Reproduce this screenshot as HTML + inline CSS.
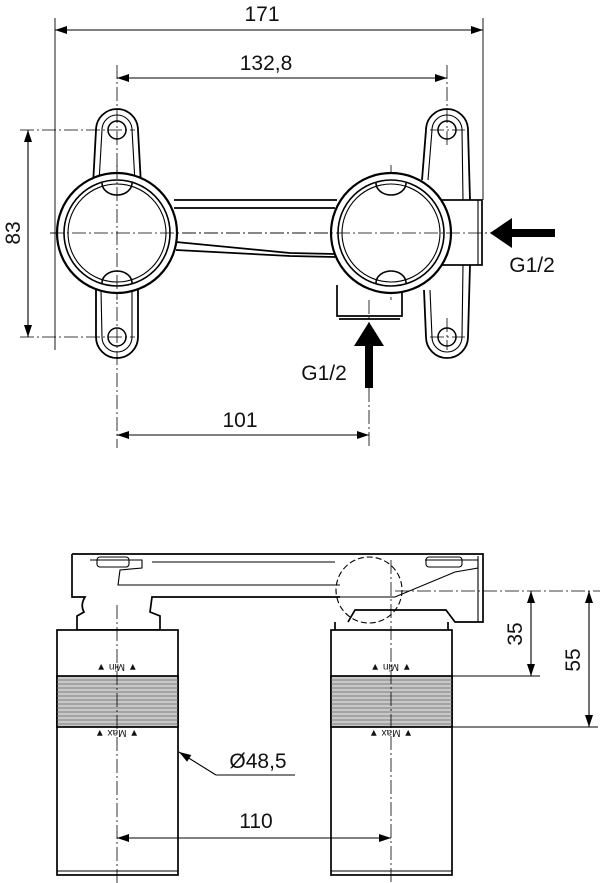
<!DOCTYPE html>
<html><head><meta charset="utf-8"><style>
html,body{margin:0;padding:0;background:#fff}
svg{display:block}
text{font-family:"Liberation Sans",sans-serif;fill:#111}
</style></head><body>
<svg width="600" height="883" viewBox="0 0 600 883" xmlns="http://www.w3.org/2000/svg">
<defs>
<marker id="a" viewBox="0 0 12 8" refX="12" refY="4" markerWidth="13" markerHeight="8" orient="auto-start-reverse" markerUnits="userSpaceOnUse"><path d="M0,0L12,4L0,8z" fill="#000"/></marker>
</defs>
<g stroke="#000" fill="none" stroke-width="1.1">
<line x1="55" y1="18" x2="55" y2="350" stroke-width="0.9"/>
<line x1="483" y1="18" x2="483" y2="200" stroke-width="0.9"/>
<line x1="55" y1="30" x2="483" y2="30" marker-start="url(#a)" marker-end="url(#a)"/>
<line x1="117" y1="78" x2="447" y2="78" marker-start="url(#a)" marker-end="url(#a)"/>
<line x1="28" y1="130" x2="28" y2="337" marker-start="url(#a)" marker-end="url(#a)"/>
<line x1="117" y1="435" x2="369" y2="435" marker-start="url(#a)" marker-end="url(#a)"/>
<g stroke-dasharray="14,3,2,3" stroke-width="0.8">
<line x1="117" y1="65" x2="117" y2="448"/>
<line x1="447" y1="65" x2="447" y2="148"/>
<line x1="447" y1="318" x2="447" y2="350"/>
<line x1="369" y1="300" x2="369" y2="448"/>
<line x1="391" y1="165" x2="391" y2="300"/>
<line x1="20" y1="130" x2="135" y2="130"/>
<line x1="20" y1="337" x2="135" y2="337"/>
<line x1="50" y1="233" x2="500" y2="233"/>
<line x1="430" y1="130" x2="465" y2="130"/>
<line x1="430" y1="337" x2="465" y2="337"/>
</g>
<g stroke-width="1.8">
<path d="M96,130 A21,21 0 0 1 138,130 L141,185 M138,288 L138,337 A21,21 0 0 1 96,337 L96,288 M93,185 L96,130"/>
<path d="M426,130 A21,21 0 0 1 468,130 L470,200 M470,265 L468,337 A21,21 0 0 1 426,337 L424,290 M422,180 L426,130"/>
</g>
<path d="M102,130 A15,15 0 0 1 132,130 L135,182 M132,290 L132,337 A15,15 0 0 1 102,337 L101,290 M99,182 L102,130"/>
<path d="M432,130 A15,15 0 0 1 462,130 L463,200 M463,265 L462,337 A15,15 0 0 1 432,337 L430,290 M428,180 L432,130"/>
<circle cx="117" cy="130" r="9" stroke-width="1.5"/><circle cx="117" cy="337" r="9" stroke-width="1.5"/>
<circle cx="447" cy="130" r="9" stroke-width="1.5"/><circle cx="447" cy="337" r="9" stroke-width="1.5"/>
<path d="M174,200 L337,200 M174,208 L335,208 M176,242 L290,253 L335,254 M176,250 L290,256 L335,257" stroke-width="1.7"/>
<rect x="440" y="200" width="42" height="65" stroke-width="1.7" fill="#fff"/>
<line x1="478" y1="200" x2="478" y2="265"/>
<path d="M337,285 L337,316 L402,316 L402,290" stroke-width="1.7"/>
<line x1="339" y1="319" x2="400" y2="319" stroke-width="1.7"/>
<g fill="#fff">
<circle cx="117" cy="233" r="60" stroke-width="2.2"/>
<circle cx="391" cy="233" r="60" stroke-width="2.2"/>
</g>
<circle cx="117" cy="233" r="53" stroke-width="1.6"/>
<circle cx="117" cy="233" r="49"/>
<circle cx="391" cy="233" r="53" stroke-width="1.6"/>
<circle cx="391" cy="233" r="49"/>
<path d="M102,183 A15,12 0 0 0 132,183 M102,283 A15,12 0 0 1 132,283 M376,183 A15,12 0 0 0 406,183 M376,283 A15,12 0 0 1 406,283" stroke-width="1.6"/>
<g stroke-dasharray="14,3,2,3" stroke-width="0.8">
<line x1="117" y1="165" x2="117" y2="300"/><line x1="50" y1="233" x2="500" y2="233"/>
</g>
</g>
<polygon points="490,233 512,218 512,229 555,229 555,237 512,237 512,248" fill="#000"/>
<polygon points="369,322 354,346 365,346 365,388 373,388 373,346 384,346" fill="#000"/>
<g font-size="21">
<text x="262" y="21" text-anchor="middle">171</text>
<text x="266" y="70" text-anchor="middle">132,8</text>
<text x="240" y="427" text-anchor="middle">101</text>
<text x="532" y="272" text-anchor="middle">G1/2</text>
<text x="324" y="380" text-anchor="middle">G1/2</text>
<text transform="translate(20,233) rotate(-90)" text-anchor="middle">83</text>
<text x="258" y="768" text-anchor="middle">Ø48,5</text>
<text x="256" y="828" text-anchor="middle">110</text>
<text transform="translate(522,634) rotate(-90)" text-anchor="middle">35</text>
<text transform="translate(580,660) rotate(-90)" text-anchor="middle">55</text>
</g>
<g stroke="#000" fill="none" stroke-width="1.7">
<path d="M72,554 L483,554 L483,622 L455,622 L446,610 L355,610 L348,622"/>
<path d="M72,554 L72,597 L85,597 Q80,605 84,612 L77,616 L77,630 L160,630 L160,616 L150,612 L152,597 L340,597"/>
<line x1="478" y1="556" x2="478" y2="622" stroke-width="1.1"/>
<path d="M90,560 L142,560 L142,568 L120,570 L118,585 L340,585 M152,562 L335,562 M425,560 L478,560 L478,568 L455,572 L395,597 L340,597" stroke-width="1.1"/>
<rect x="97" y="557" width="32" height="10" rx="3" stroke-width="1.1"/>
<rect x="426" y="557" width="36" height="10" rx="3" stroke-width="1.1"/>
<circle cx="369" cy="590" r="33" stroke-dasharray="6,3" stroke-width="1.1"/>
<rect x="57" y="630" width="121" height="245" fill="#fff"/>
<rect x="331" y="630" width="121" height="245" fill="#fff"/>
<rect x="57" y="676" width="121" height="51" fill="#c8c8c8"/>
<rect x="331" y="676" width="121" height="51" fill="#c8c8c8"/>
<line x1="57" y1="871" x2="178" y2="871" stroke-width="1.1"/>
<line x1="331" y1="871" x2="452" y2="871" stroke-width="1.1"/>
<line x1="335" y1="622" x2="335" y2="630"/><line x1="448" y1="622" x2="448" y2="630"/>
</g>
<g stroke="#666" stroke-width="0.7">
<path d="M57,680H178M57,684H178M57,688H178M57,692H178M57,696H178M57,700H178M57,704H178M57,708H178M57,712H178M57,716H178M57,720H178M57,724H178"/>
<path d="M331,680H452M331,684H452M331,688H452M331,692H452M331,696H452M331,700H452M331,704H452M331,708H452M331,712H452M331,716H452M331,720H452M331,724H452"/>
</g>
<g fill="#555" font-size="10">
<text x="117" y="672" text-anchor="middle" transform="rotate(180 117 668)">▼ Min ▼</text>
<text x="117" y="738" text-anchor="middle" transform="rotate(180 117 734)">▼ Max ▼</text>
<text x="391" y="672" text-anchor="middle" transform="rotate(180 391 668)">▼ Min ▼</text>
<text x="391" y="738" text-anchor="middle" transform="rotate(180 391 734)">▼ Max ▼</text>
</g>
<g stroke="#000" fill="none" stroke-width="1.1">
<g stroke-dasharray="14,3,2,3" stroke-width="0.8">
<line x1="117" y1="605" x2="117" y2="883"/>
<line x1="391" y1="560" x2="391" y2="883"/>
<line x1="395" y1="591" x2="600" y2="591"/>
</g>
<line x1="452" y1="676" x2="540" y2="676"/>
<line x1="452" y1="727" x2="598" y2="727"/>
<line x1="531" y1="591" x2="531" y2="676" marker-start="url(#a)" marker-end="url(#a)"/>
<line x1="589" y1="591" x2="589" y2="727" marker-start="url(#a)" marker-end="url(#a)"/>
<line x1="117" y1="838" x2="391" y2="838" marker-start="url(#a)" marker-end="url(#a)"/>
<path d="M216,775 L295,775"/>
<line x1="216" y1="775" x2="179" y2="752" marker-end="url(#a)"/>
</g>
</svg>
</body></html>
